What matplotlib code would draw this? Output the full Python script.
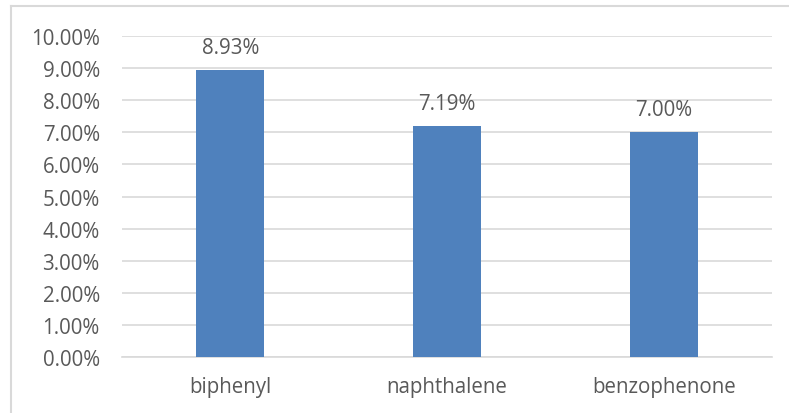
import matplotlib
matplotlib.use("Agg")
import matplotlib.pyplot as plt
from matplotlib.lines import Line2D
from matplotlib.ticker import FuncFormatter, MultipleLocator

categories = ["biphenyl", "naphthalene", "benzophenone"]
values = [8.93, 7.19, 7.00]  # percent

plt.rcParams["font.family"] = ["Open Sans", "DejaVu Sans"]
text_color = "#595959"
grid_color = "#d9d9d9"
bar_color = "#4f81bd"
fs = 14.8

fig = plt.figure(figsize=(7.89, 4.14), dpi=100)
W, H = 789, 414
ax = fig.add_axes([122 / W, 56 / H, (772 - 122) / W, (358 - 37) / H])

x = range(len(categories))
bars = ax.bar(x, values, width=0.315, color=bar_color, zorder=3)

ax.set_xlim(-0.5, len(categories) - 0.5)
ax.set_ylim(0, 10)
ax.yaxis.set_major_locator(MultipleLocator(1))
ax.yaxis.set_major_formatter(FuncFormatter(lambda v, _: f"{v:.2f}%"))
ax.set_xticks(list(x))
ax.set_xticklabels(categories)

ax.grid(axis="y", color=grid_color, linewidth=1.2, zorder=0)
for side in ["top", "right", "left"]:
    ax.spines[side].set_visible(False)
ax.spines["bottom"].set_color(grid_color)
ax.spines["bottom"].set_linewidth(1.2)
ax.tick_params(axis="both", length=0, colors=text_color, labelsize=fs)
ax.tick_params(axis="x", pad=14)
ax.tick_params(axis="y", pad=16)

for rect, v in zip(bars, values):
    ax.annotate(f"{v:.2f}%", (rect.get_x() + rect.get_width() / 2, v),
                xytext=(0, 9), textcoords="offset points",
                ha="center", va="bottom", color=text_color, fontsize=fs)

# chart frame (top and left edges)
fig.add_artist(Line2D([11 / W, 11 / W], [0, 1 - 7 / H], transform=fig.transFigure,
                      color=grid_color, linewidth=1.5))
fig.add_artist(Line2D([11 / W, 1], [1 - 7 / H, 1 - 7 / H], transform=fig.transFigure,
                      color=grid_color, linewidth=1.5))

fig.savefig("out.png", dpi=100, facecolor="white")
